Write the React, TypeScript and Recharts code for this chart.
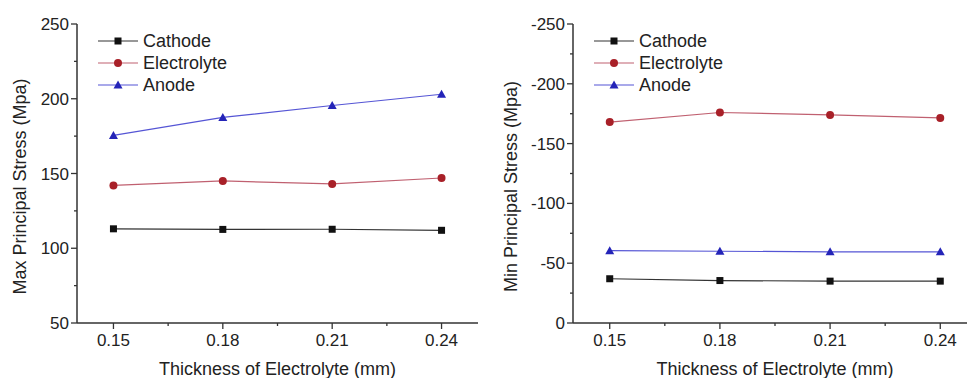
import React from 'react';
import { LineChart, Line, XAxis, YAxis, Legend, Label } from 'recharts';

// electrolyte thickness (mm)
const thickness = [0.15, 0.18, 0.21, 0.24];

// max principal stress (MPa)
const maxCathode = [113, 112.6, 112.7, 112];
const maxElectrolyte = [142, 145, 143, 147];
const maxAnode = [175.5, 187.5, 195.5, 203];

// min principal stress (MPa)
const minCathode = [-37, -35.5, -35, -35];
const minElectrolyte = [-168, -176, -174, -171.5];
const minAnode = [-60.5, -60, -59.5, -59.5];

const xTicks = [0.15, 0.165, 0.18, 0.195, 0.21, 0.225, 0.24];
const xMajorTicks = [0.15, 0.18, 0.21, 0.24];
const maxYTicks = [50, 75, 100, 125, 150, 175, 200, 225, 250];
const minYTicks = [-250, -225, -200, -175, -150, -125, -100, -75, -50, -25, 0];

const FONT = '"Liberation Sans", Arial, sans-serif';
const TEXT = '#222';
const AXIS = '#333';

type Shape = 'square' | 'circle' | 'triangle';

const SERIES: { key: string; name: string; line: string; fill: string; shape: Shape }[] = [
  { key: 'cathode', name: 'Cathode', line: '#333', fill: '#111', shape: 'square' },
  { key: 'electrolyte', name: 'Electrolyte', line: '#c06070', fill: '#a82028', shape: 'circle' },
  { key: 'anode', name: 'Anode', line: '#5555d5', fill: '#2424b8', shape: 'triangle' },
];

const maxData = thickness.map((t, i) => ({
  t,
  cathode: maxCathode[i],
  electrolyte: maxElectrolyte[i],
  anode: maxAnode[i],
}));

const minData = thickness.map((t, i) => ({
  t,
  cathode: minCathode[i],
  electrolyte: minElectrolyte[i],
  anode: minAnode[i],
}));

function Marker({ cx, cy, shape, fill }: { cx: number; cy: number; shape: Shape; fill: string }) {
  if (shape === 'square') {
    return <rect x={cx - 3.5} y={cy - 3.5} width={7} height={7} fill={fill} />;
  }
  if (shape === 'circle') {
    return <circle cx={cx} cy={cy} r={4} fill={fill} />;
  }
  return <polygon points={`${cx},${cy - 4.5} ${cx - 4.5},${cy + 3.5} ${cx + 4.5},${cy + 3.5}`} fill={fill} />;
}

const isMajor = (v: number, majors: number[]) => majors.some((m) => Math.abs(m - v) < 1e-6);

function XTick(props: any) {
  const { x, y, payload } = props;
  const major = isMajor(payload.value, xMajorTicks);
  return (
    <g>
      <line x1={x} x2={x} y1={y} y2={y + (major ? 6 : 3)} stroke={AXIS} strokeWidth={1.3} />
      {major && (
        <text x={x} y={y + 23} textAnchor="middle" fontSize={17} fontFamily={FONT} fill={TEXT}>
          {payload.value.toFixed(2)}
        </text>
      )}
    </g>
  );
}

function YTick(props: any) {
  const { x, y, payload } = props;
  const major = payload.value % 50 === 0;
  return (
    <g>
      <line x1={x} x2={x - (major ? 6 : 3)} y1={y} y2={y} stroke={AXIS} strokeWidth={1.3} />
      {major && (
        <text x={x - 8} y={y + 6} textAnchor="end" fontSize={17} fontFamily={FONT} fill={TEXT}>
          {payload.value}
        </text>
      )}
    </g>
  );
}

function SeriesLegend() {
  return (
    <div style={{ display: 'flex', flexDirection: 'column' }}>
      {SERIES.map((s) => (
        <div key={s.key} style={{ display: 'flex', alignItems: 'center', height: 22 }}>
          <svg width={45} height={22}>
            <line x1={0} x2={40} y1={11} y2={11} stroke={s.line} strokeWidth={1.2} />
            <Marker cx={20} cy={11} shape={s.shape} fill={s.fill} />
          </svg>
          <span style={{ fontFamily: FONT, fontSize: 18, color: TEXT, lineHeight: '22px' }}>{s.name}</span>
        </div>
      ))}
    </div>
  );
}

function yTitle(text: string, dx: number, dy: number) {
  return (props: any) => {
    const vb = props.viewBox;
    const cx = vb.x + dx;
    const cy = vb.y + vb.height / 2 + dy;
    return (
      <text
        x={cx}
        y={cy}
        transform={`rotate(-90 ${cx} ${cy})`}
        textAnchor="middle"
        dominantBaseline="central"
        fontSize={18}
        fontFamily={FONT}
        fill={TEXT}
      >
        {text}
      </text>
    );
  };
}

function StressChart({
  data,
  width,
  yWidth,
  yDomain,
  yTicks,
  reversed,
  yLabel,
  labelDx,
}: {
  data: any[];
  width: number;
  yWidth: number;
  yDomain: [number, number];
  yTicks: number[];
  reversed: boolean;
  yLabel: string;
  labelDx: number;
}) {
  return (
    <LineChart width={width} height={378} data={data} margin={{ top: 24, right: 0, bottom: 0, left: 0 }}>
      <XAxis
        dataKey="t"
        type="number"
        domain={[0.14, 0.25]}
        ticks={xTicks}
        interval={0}
        height={55}
        tickSize={0}
        tickMargin={0}
        tickLine={false}
        tick={<XTick />}
        axisLine={{ stroke: AXIS, strokeWidth: 1.5 }}
      >
        <Label
          value="Thickness of Electrolyte (mm)"
          position="insideBottom"
          offset={3}
          style={{ fontSize: 18, fontFamily: FONT, fill: TEXT }}
        />
      </XAxis>
      <YAxis
        type="number"
        domain={yDomain}
        ticks={yTicks}
        interval={0}
        reversed={reversed}
        width={yWidth}
        tickSize={0}
        tickMargin={0}
        tickLine={false}
        tick={<YTick />}
        axisLine={{ stroke: AXIS, strokeWidth: 1.5 }}
      >
        <Label content={yTitle(yLabel, labelDx, 13)} />
      </YAxis>
      <Legend
        layout="vertical"
        align="center"
        verticalAlign="middle"
        wrapperStyle={{ position: 'absolute', left: yWidth + 21, top: 30, width: 'auto' }}
        content={<SeriesLegend />}
      />
      {SERIES.map((s) => (
        <Line
          key={s.key}
          dataKey={s.key}
          name={s.name}
          type="linear"
          stroke={s.line}
          strokeWidth={1.2}
          isAnimationActive={false}
          dot={(p: any) => <Marker key={`${s.key}-${p.index}`} cx={p.cx} cy={p.cy} shape={s.shape} fill={s.fill} />}
          activeDot={false}
        />
      ))}
    </LineChart>
  );
}

export default function App() {
  return (
    <div
      style={{
        position: 'fixed',
        left: 0,
        top: 0,
        width: 967,
        height: 378,
        overflow: 'hidden',
        background: '#fff',
      }}
    >
      <div style={{ position: 'absolute', left: 0, top: 0 }}>
        <StressChart
          data={maxData}
          width={478}
          yWidth={77}
          yDomain={[50, 250]}
          yTicks={maxYTicks}
          reversed={false}
          yLabel="Max Principal Stress (Mpa)"
          labelDx={20}
        />
      </div>
      <div style={{ position: 'absolute', left: 487, top: 0 }}>
        <StressChart
          data={minData}
          width={490}
          yWidth={86}
          yDomain={[-250, 0]}
          yTicks={minYTicks}
          reversed={true}
          yLabel="Min Principal Stress (Mpa)"
          labelDx={24}
        />
      </div>
    </div>
  );
}
